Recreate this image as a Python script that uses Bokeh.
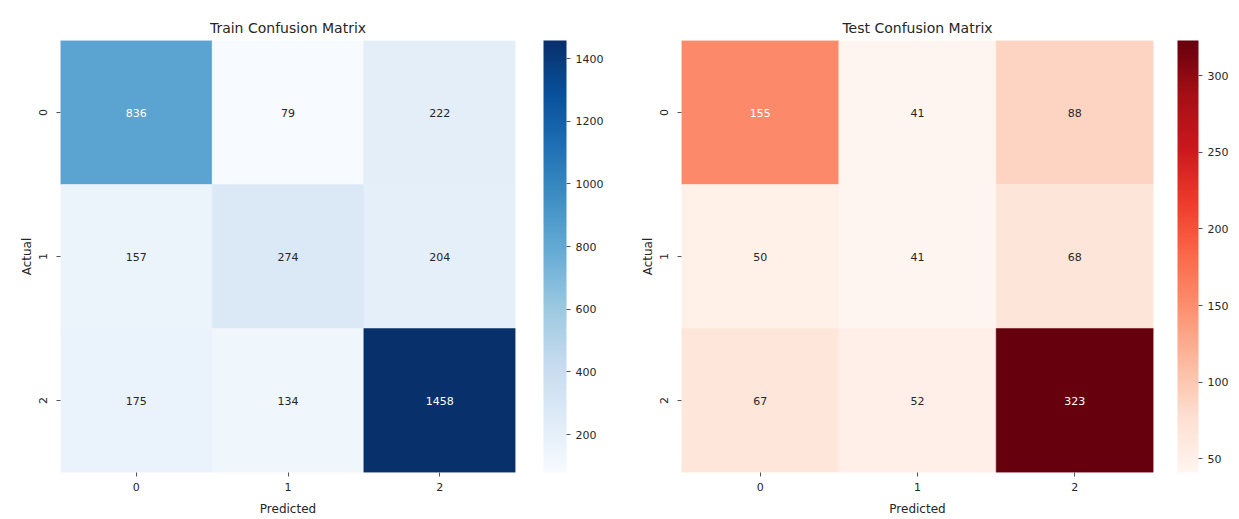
from bokeh.plotting import figure
from bokeh.layouts import row
from bokeh.models import (ColumnDataSource, LinearColorMapper, ColorBar, FixedTicker, Range1d, Label)
from bokeh.palettes import Blues256, Reds256
from bokeh.embed import file_html
from bokeh.resources import INLINE

class_labels = ["0", "1", "2"]
train_cm = [[836, 79, 222],
            [157, 274, 204],
            [175, 134, 1458]]
test_cm = [[155, 41, 88],
           [50, 41, 68],
           [67, 52, 323]]
train_cb_ticks = [200, 400, 600, 800, 1000, 1200, 1400]
test_cb_ticks = [50, 100, 150, 200, 250, 300]

FONT = "DejaVu Sans"


def lum(hexc):
    r, g, b = [int(hexc[i:i + 2], 16) / 255 for i in (1, 3, 5)]
    def f(c):
        return c / 12.92 if c <= 0.03928 else ((c + 0.055) / 1.055) ** 2.4
    return 0.2126 * f(r) + 0.7152 * f(g) + 0.0722 * f(b)


def heatmap(cm, palette, title, ticks, fl, fw, cbw, cbgap, right):
    pal = list(reversed(palette))
    vals = [v for r in cm for v in r]
    lo, hi = min(vals), max(vals)
    mapper = LinearColorMapper(palette=pal, low=lo, high=hi)
    cells = dict(x=[], y=[], c=[])
    labels = []
    n = len(class_labels)
    for i in range(n):
        for j in range(n):
            v = cm[i][j]
            idx = min(255, int((v - lo) / (hi - lo) * 256))
            c = pal[idx]
            cells["x"].append(j + 0.5)
            cells["y"].append(i + 0.5)
            cells["c"].append(c)
            labels.append((j + 0.5, i + 0.5, str(v), "#262626" if lum(c) > 0.42 else "#ffffff"))
    p = figure(frame_width=fw, frame_height=432, min_border_left=fl,
               min_border_top=40, min_border_bottom=47, min_border_right=right,
               x_range=Range1d(0, n), y_range=Range1d(n, 0),
               output_backend="svg", toolbar_location=None,
               title=title)
    p.rect(x="x", y="y", width=1, height=1, source=ColumnDataSource(cells),
           fill_color="c", line_color="c", line_width=0.5)
    for (lx, ly, lt, lc) in labels:
        p.add_layout(Label(x=lx, y=ly, text=lt, text_color=lc, text_align="center",
                           text_baseline="middle", text_font_size="11px", text_font=FONT))
    p.title.align = "center"
    p.title.text_font = FONT
    p.title.text_font_size = "14px"
    p.title.text_font_style = "normal"
    p.title.text_color = "#262626"
    p.title.offset = 0
    p.title.standoff = 10
    for ax in (p.xaxis[0], p.yaxis[0]):
        ax.ticker = FixedTicker(ticks=[k + 0.5 for k in range(n)])
        ax.major_label_overrides = {k + 0.5: class_labels[k] for k in range(n)}
        ax.axis_line_color = None
        ax.minor_tick_line_color = None
        ax.major_tick_in = 0
        ax.major_tick_out = 4
        ax.major_tick_line_color = "#555555"
        ax.major_label_text_font = FONT
        ax.major_label_text_font_size = "11px"
        ax.major_label_text_color = "#262626"
        ax.axis_label_text_font = FONT
        ax.axis_label_text_font_size = "12px"
        ax.axis_label_text_font_style = "normal"
        ax.axis_label_text_color = "#262626"
    p.xaxis.axis_label = "Predicted"
    p.yaxis.axis_label = "Actual"
    p.yaxis.major_label_orientation = "vertical"
    p.xaxis.major_label_standoff = 6
    p.yaxis.major_label_standoff = 10
    p.xaxis.axis_label_standoff = 8
    p.yaxis.axis_label_standoff = 2
    p.grid.visible = False
    p.outline_line_color = None
    cb = ColorBar(color_mapper=mapper, width=cbw, height=432, location=(cbgap, 0),
                  ticker=FixedTicker(ticks=ticks), padding=0,
                  major_label_text_font=FONT, major_label_text_font_size="11px",
                  major_label_text_color="#262626",
                  major_tick_in=0, major_tick_out=4, major_tick_line_color="#555555",
                  minor_tick_line_color=None, bar_line_color=None,
                  border_line_color=None, background_fill_color=None)
    p.add_layout(cb, "right")
    return p


p1 = heatmap(train_cm, Blues256, "Train Confusion Matrix", train_cb_ticks, 60, 455, 23, 28, 105)
p2 = heatmap(test_cm, Reds256, "Test Confusion Matrix", test_cb_ticks, 61, 472, 21, 24, 86)
lay = row(p1, p2)
open("out.html", "w").write(file_html(lay, INLINE))
